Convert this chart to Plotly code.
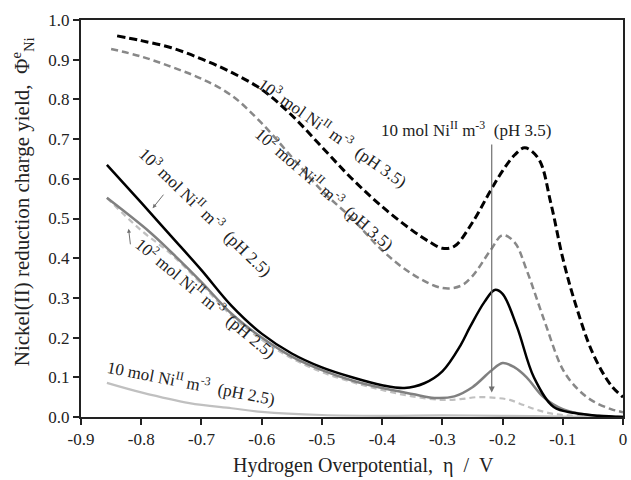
import plotly.graph_objects as go

# ---- data ----
x_bd = [-0.84, -0.8, -0.75, -0.7, -0.65, -0.6, -0.55, -0.5, -0.45, -0.4, -0.35, -0.32, -0.3, -0.28,
        -0.25, -0.22, -0.2, -0.18, -0.163, -0.14, -0.12, -0.1, -0.08, -0.05, -0.02, 0.0]
y_bd = [0.96, 0.948, 0.93, 0.902, 0.868, 0.825, 0.76, 0.68, 0.60, 0.53, 0.47, 0.44, 0.425, 0.43,
        0.49, 0.57, 0.62, 0.66, 0.678, 0.65, 0.54, 0.40, 0.29, 0.16, 0.08, 0.05]

x_gd = [-0.85, -0.8, -0.75, -0.7, -0.65, -0.6, -0.55, -0.5, -0.45, -0.4, -0.35, -0.3, -0.27, -0.25,
        -0.22, -0.2, -0.18, -0.16, -0.13, -0.1, -0.075, -0.05, -0.02, 0.0]
y_gd = [0.927, 0.908, 0.882, 0.852, 0.81, 0.74, 0.655, 0.57, 0.50, 0.42, 0.36, 0.325, 0.33, 0.355,
        0.42, 0.458, 0.44, 0.37, 0.24, 0.12, 0.07, 0.04, 0.02, 0.012]

x_bs = [-0.857, -0.8, -0.75, -0.7, -0.65, -0.6, -0.55, -0.5, -0.45, -0.4, -0.363, -0.33, -0.3, -0.27,
        -0.254, -0.23, -0.213, -0.2, -0.176, -0.148, -0.115, -0.08, -0.04, 0.0]
y_bs = [0.635, 0.54, 0.455, 0.37, 0.28, 0.21, 0.16, 0.125, 0.10, 0.08, 0.073, 0.085, 0.115, 0.18,
        0.227, 0.29, 0.32, 0.31, 0.227, 0.10, 0.025, 0.01, 0.003, 0.0]

x_gs = [-0.857, -0.786, -0.75, -0.7, -0.65, -0.6, -0.55, -0.5, -0.45, -0.4, -0.35, -0.313, -0.28,
        -0.25, -0.22, -0.2, -0.18, -0.16, -0.132, -0.1, -0.06, 0.0]
y_gs = [0.552, 0.466, 0.415, 0.34, 0.26, 0.20, 0.152, 0.118, 0.092, 0.073, 0.058, 0.048, 0.052,
        0.075, 0.115, 0.136, 0.125, 0.10, 0.05, 0.02, 0.006, 0.0]

x_ld = [-0.857, -0.8, -0.75, -0.7, -0.65, -0.6, -0.55, -0.5, -0.45, -0.4, -0.35, -0.3, -0.27, -0.242,
        -0.21, -0.188, -0.165, -0.143, -0.12, -0.1, -0.05, 0.0]
y_ld = [0.552, 0.47, 0.41, 0.335, 0.255, 0.195, 0.148, 0.113, 0.088, 0.068, 0.052, 0.043, 0.045, 0.05,
        0.048, 0.043, 0.03, 0.018, 0.009, 0.005, 0.002, 0.001]

x_ls = [-0.857, -0.8, -0.72, -0.65, -0.6, -0.5, -0.4, -0.3, -0.2, -0.1, 0.0]
y_ls = [0.086, 0.062, 0.035, 0.022, 0.013, 0.005, 0.003, 0.004, 0.003, 0.001, 0.0]

x_ticks = [-0.9, -0.8, -0.7, -0.6, -0.5, -0.4, -0.3, -0.2, -0.1, 0.0]
x_ticklabels = ["-0.9", "-0.8", "-0.7", "-0.6", "-0.5", "-0.4", "-0.3", "-0.2", "-0.1", "0"]
y_ticks = [0.0, 0.1, 0.2, 0.3, 0.4, 0.5, 0.6, 0.7, 0.8, 0.9, 1.0]
y_ticklabels = ["0.0", "0.1", "0.2", "0.3", "0.4", "0.5", "0.6", "0.7", "0.8", "0.9", "1.0"]

FONT = "Liberation Serif, Times New Roman, serif"

fig = go.Figure()

def add(x, y, color, width, dash):
    fig.add_trace(go.Scatter(x=x, y=y, mode="lines",
                             line=dict(color=color, width=width, dash=dash, shape="spline", smoothing=1.0),
                             showlegend=False, hoverinfo="skip"))

add(x_ls, y_ls, "#c0c0c0", 2.2, "solid")
add(x_ld, y_ld, "#c0c0c0", 2.2, "6px,4px")
add(x_gs, y_gs, "#808080", 2.5, "solid")
add(x_bs, y_bs, "#000000", 2.5, "solid")
add(x_gd, y_gd, "#888888", 2.5, "7px,4px")
add(x_bd, y_bd, "#000000", 3, "8px,4px")

ann_font = dict(family=FONT, size=17, color="#222222")
annotations = [
    dict(x=-0.481, y=0.718, text="10<sup>3</sup> mol Ni<sup>II</sup> m<sup>-3</sup>  (pH 3.5)", textangle=35),
    dict(x=-0.495, y=0.577, text="10<sup>2</sup> mol Ni<sup>II</sup> m<sup>-3</sup>  (pH 3.5)", textangle=41),
    dict(x=-0.693, y=0.519, text="10<sup>3</sup> mol Ni<sup>II</sup> m<sup>-3</sup>  (pH 2.5)", textangle=44),
    dict(x=-0.693, y=0.302, text="10<sup>2</sup> mol Ni<sup>II</sup> m<sup>-3</sup>  (pH 2.5)", textangle=40),
    dict(x=-0.717, y=0.088, text="10 mol Ni<sup>II</sup> m<sup>-3</sup>  (pH 2.5)", textangle=11),
]
for a in annotations:
    a.update(xref="x", yref="y", showarrow=False, font=ann_font, xanchor="center", yanchor="middle")
    fig.add_annotation(**a)

fig.add_annotation(x=-0.26, y=0.725, xref="x", yref="y", showarrow=False,
                   text="10 mol Ni<sup>II</sup> m<sup>-3</sup>  (pH 3.5)",
                   font=dict(family=FONT, size=17, color="#222222"), xanchor="center", yanchor="middle")
# vertical arrow
fig.add_annotation(x=-0.218, y=0.062, ax=-0.218, ay=0.69, xref="x", yref="y", axref="x", ayref="y",
                   text="", showarrow=True, arrowhead=2, arrowsize=1, arrowwidth=1.2, arrowcolor="#707070")
# small arrows
fig.add_annotation(x=-0.781, y=0.526, ax=12, ay=-15, xref="x", yref="y",
                   text="", showarrow=True, arrowhead=2, arrowsize=0.8, arrowwidth=1, arrowcolor="#707070")
fig.add_annotation(x=-0.821, y=0.474, ax=2, ay=17, xref="x", yref="y",
                   text="", showarrow=True, arrowhead=2, arrowsize=0.8, arrowwidth=1, arrowcolor="#707070")

# axis titles
fig.add_annotation(x=-0.108, y=0.542, xref="paper", yref="paper", showarrow=False, textangle=-90,
                   text="Nickel(II) reduction charge yield,  Φ<sup>e</sup><sub>Ni</sub>",
                   font=dict(family=FONT, size=21, color="#222222"), xanchor="center", yanchor="middle")
fig.add_annotation(x=0.522, y=-0.123, xref="paper", yref="paper", showarrow=False,
                   text="Hydrogen Overpotential,  η  /  V",
                   font=dict(family=FONT, size=20, color="#222222"), xanchor="center", yanchor="middle")

fig.update_layout(
    width=631, height=480,
    margin=dict(l=81, r=4, t=20, b=63),
    paper_bgcolor="white", plot_bgcolor="white",
    font=dict(family=FONT, size=17, color="#222222"),
)
fig.update_xaxes(range=[-0.9, 0.0], tickvals=x_ticks, ticktext=x_ticklabels, ticks="outside",
                 ticklen=6, tickwidth=2, tickcolor="#222", showline=True, linecolor="#222", linewidth=2,
                 mirror=True, showgrid=False, zeroline=False, tickfont=dict(family=FONT, size=17))
fig.update_yaxes(range=[0.0, 1.0], tickvals=y_ticks, ticktext=y_ticklabels, ticks="outside",
                 ticklen=6, tickwidth=2, tickcolor="#222", showline=True, linecolor="#222", linewidth=2,
                 mirror=True, showgrid=False, zeroline=False, tickfont=dict(family=FONT, size=17))

fig.write_html("out.html")
